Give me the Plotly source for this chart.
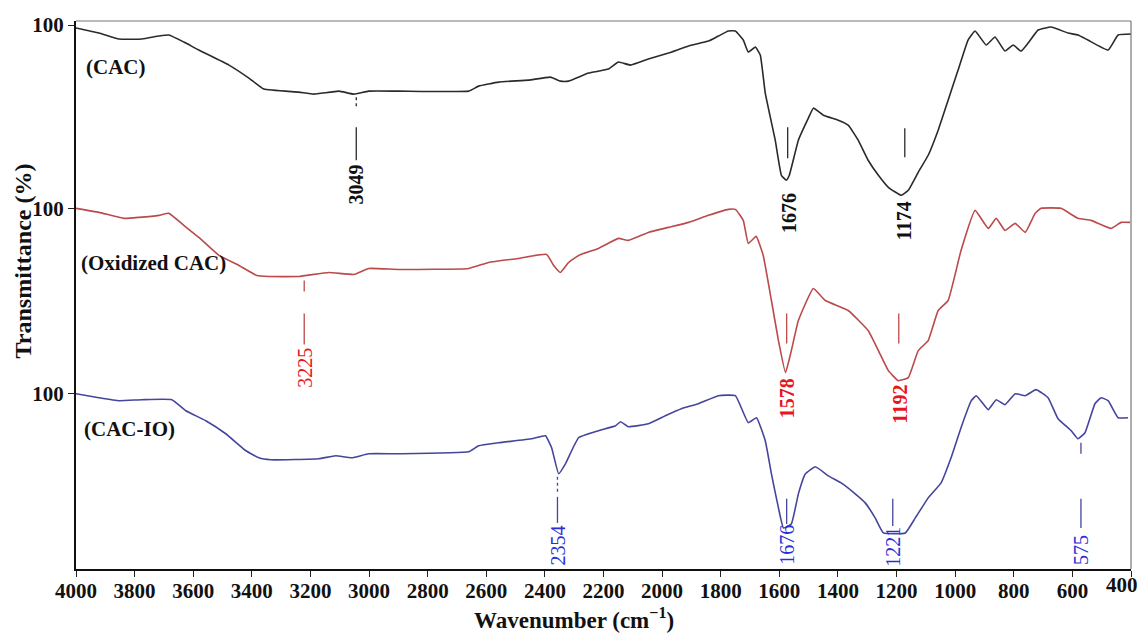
import plotly.graph_objects as go

# ---------------- data ----------------
cac_wn = [4000, 3922, 3853, 3775, 3717, 3683, 3632, 3581, 3478, 3410, 3359, 3240, 3189, 3103, 3052, 3001,
          2899, 2660, 2626, 2558, 2456, 2381, 2347, 2319, 2251, 2183, 2149, 2108, 2047, 1978, 1910, 1842,
          1808, 1774, 1750, 1723, 1706, 1682, 1665, 1648, 1614, 1593, 1576, 1566, 1535, 1501, 1484, 1450,
          1399, 1365, 1331, 1297, 1262, 1228, 1184, 1160, 1126, 1092, 1058, 1024, 990, 956, 932, 894, 864,
          830, 802, 775, 751, 717, 673, 615, 581, 547, 478, 444, 400]
cac_t = [98.5, 96, 93, 93, 94.5, 95, 91.5, 87.5, 80, 73.5, 68, 66.5, 65.5, 67, 65.5, 67,
         67, 67, 69.5, 71.5, 72.5, 74, 72, 72, 76, 78, 81.5, 80, 83, 86, 89.5, 92,
         94.5, 97, 97, 92.5, 86.5, 89, 85, 66, 42.5, 25, 22.5, 25, 42.5, 53.5, 58.5, 55,
         52.5, 50, 42.5, 32.5, 25, 19, 15, 17.5, 26.5, 35, 47.5, 62.5, 77.5, 92.5, 97, 90, 94,
         87, 90, 87, 91, 97.5, 99, 96, 95, 92.5, 87.5, 95, 95.5]

ox_wn = [4000, 3922, 3836, 3785, 3717, 3683, 3632, 3581, 3512, 3444, 3383, 3342, 3240, 3137, 3052, 3001,
         2899, 2660, 2592, 2490, 2394, 2370, 2347, 2319, 2285, 2217, 2149, 2115, 2047, 1978, 1910, 1842,
         1774, 1750, 1723, 1706, 1679, 1655, 1627, 1603, 1579, 1559, 1535, 1484, 1443, 1365, 1297, 1262,
         1228, 1194, 1160, 1126, 1092, 1058, 1024, 980, 932, 887, 860, 830, 795, 761, 727, 707, 639,
         581, 536, 468, 434, 403]
ox_t = [100, 98, 95, 95.5, 96.5, 97.5, 91.5, 85.5, 76.5, 71.5, 66.5, 66, 66, 68, 67, 70,
        69.5, 70, 73, 75, 77, 71.5, 68, 73, 76.5, 80, 85, 84, 88, 90.5, 93, 96.5,
        99.5, 99.5, 94, 82.5, 86, 76.5, 54, 34, 18, 29, 44, 60, 54, 49, 39, 29,
        19, 14, 15.5, 29, 34, 49, 54, 79, 99, 90, 95, 89, 92.5, 88, 97.5, 100, 100,
        95, 94, 90, 93, 93]

io_wn = [4000, 3922, 3853, 3775, 3673, 3625, 3557, 3489, 3420, 3376, 3335, 3172, 3114, 3059, 3001,
         2899, 2660, 2626, 2558, 2445, 2398, 2377, 2353, 2330, 2285, 2217, 2159, 2142, 2115, 2047,
         1989, 1934, 1876, 1808, 1750, 1706, 1678, 1648, 1627, 1603, 1586, 1559, 1535, 1511, 1477,
         1433, 1389, 1341, 1307, 1273, 1245, 1170, 1136, 1092, 1048, 1014, 980, 945, 928, 887, 860,
         830, 795, 761, 724, 683, 649, 604, 581, 557, 523, 502, 478, 444, 410]
io_t = [100, 98, 96.5, 97, 97, 91.5, 86.5, 80, 71.5, 68, 67, 67.5, 69, 68, 70,
        70, 71, 74, 75.5, 77.5, 79, 73, 60, 65, 78, 81.5, 84, 86, 83.5, 85,
        89, 92.5, 95, 99, 99, 85.5, 88, 76.5, 60, 43, 33, 35, 50, 60, 63.5,
        59, 55.5, 50, 45.5, 38, 30.5, 30.5, 38, 48, 55.5, 68, 83, 96.5, 99, 92, 97,
        94.5, 100, 99, 102, 98, 87.5, 81.5, 77.5, 80.5, 95, 98, 96.5, 88, 88]

series_names = ["(CAC)", "(Oxidized CAC)", "(CAC-IO)"]
offsets = [0, 91.5, 184]          # vertical stacking offsets (transmittance units)
x_ticks = list(range(4000, 399, -200))
y_tick_text = ["100", "100", "100"]

peak_labels_cac = ["3049", "1676", "1174"]
peak_labels_ox = ["3225", "1578", "1192"]
peak_labels_io = ["2354", "1676", "1221", "575"]

# ---------------- styling ----------------
FONT = "Liberation Serif"
C_BLACK, C_RED, C_BLUE = "#2a2a2a", "#bb4a4a", "#45459c"
T_BLACK, T_RED, T_BLUE = "#111111", "#e8141e", "#2e2ed6"

fig = go.Figure()
for wn, t, off, col, name in [(cac_wn, cac_t, offsets[0], C_BLACK, series_names[0]),
                              (ox_wn, ox_t, offsets[1], C_RED, series_names[1]),
                              (io_wn, io_t, offsets[2], C_BLUE, series_names[2])]:
    fig.add_trace(go.Scatter(x=wn, y=[v - off for v in t], mode="lines", name=name,
                             line=dict(color=col, width=1.6, shape="spline", smoothing=0.35),
                             showlegend=False, hoverinfo="skip"))

# helpers: pixel -> data (only for placing labels)
def W(px):
    return 4000 - (px - 77) / (1054 / 3600)

def V(py):
    return 112.5 - py / 2

shapes = []
annotations = []

def seg(x, y0, y1, color, dash="solid"):
    shapes.append(dict(type="line", xref="x", yref="y", x0=W(x), x1=W(x), y0=V(y0), y1=V(y1),
                       line=dict(color=color, width=1.3, dash=dash)))

def rot(text, x, yc, color, bold):
    annotations.append(dict(text=f"<b>{text}</b>" if bold else text, x=W(x), y=V(yc), xref="x", yref="y",
                            showarrow=False, textangle=-90, xanchor="center", yanchor="middle",
                            font=dict(family=FONT, size=20, color=color)))

# CAC labels
seg(357, 97, 107, C_BLACK, "dot"); seg(357, 127, 160, C_BLACK); rot(peak_labels_cac[0], 357, 184, T_BLACK, True)
seg(788, 127, 158, C_BLACK); rot(peak_labels_cac[1], 790, 213, T_BLACK, True)
seg(905, 128, 157, C_BLACK); rot(peak_labels_cac[2], 905, 220, T_BLACK, True)
# Oxidized labels
seg(305, 280, 291, C_RED); seg(305, 313, 344, C_RED); rot(peak_labels_ox[0], 305, 367, T_RED, False)
seg(787, 313, 343, C_RED); rot(peak_labels_ox[1], 787, 398, T_RED, True)
seg(899, 313, 343, C_RED); rot(peak_labels_ox[2], 900, 403, T_RED, True)
# CAC-IO labels
seg(558, 476, 492, C_BLUE, "dot"); seg(558, 496, 522, C_BLUE); rot(peak_labels_io[0], 558, 544, T_BLUE, False)
seg(787, 498, 523, C_BLUE); rot(peak_labels_io[1], 787, 544, T_BLUE, False)
seg(893, 498, 525, C_BLUE); rot(peak_labels_io[2], 893, 546, T_BLUE, False)
seg(1081, 442, 453, C_BLUE); seg(1081, 498, 527, C_BLUE); rot(peak_labels_io[3], 1081, 549, T_BLUE, False)

# series labels
for name, x, y in [(series_names[0], 85, 67), (series_names[1], 80, 263), (series_names[2], 83, 428)]:
    annotations.append(dict(text=f"<b>{name}</b>", x=W(x), y=V(y), xref="x", yref="y", showarrow=False,
                            xanchor="left", yanchor="middle",
                            font=dict(family=FONT, size=21, color="#111111")))

# last x tick label (sits inside the right edge in the reference)
annotations.append(dict(text=f"<b>{x_ticks[-1]}</b>", xref="paper", yref="paper",
                        x=(1122 - 77) / 1054, y=(568 - 584) / 547, showarrow=False,
                        xanchor="center", yanchor="middle", font=dict(family=FONT, size=21, color="#111")))

# axis titles
annotations.append(dict(text="<b>Wavenumber (cm<sup>\u22121</sup>)</b>", xref="paper", yref="paper",
                        x=(575 - 77) / 1054, y=(568 - 617) / 547, showarrow=False,
                        xanchor="center", yanchor="middle", font=dict(family=FONT, size=23, color="#111")))
annotations.append(dict(text="<b>Transmittance (%)</b>", xref="paper", yref="paper",
                        x=(24 - 77) / 1054, y=(568 - 260) / 547, showarrow=False, textangle=-90,
                        xanchor="center", yanchor="middle", font=dict(family=FONT, size=24, color="#111")))

# thin top/right frame
shapes.append(dict(type="line", xref="paper", yref="paper", x0=0, x1=1, y0=1, y1=1,
                   line=dict(color="#777", width=1.2)))
shapes.append(dict(type="line", xref="paper", yref="paper", x0=1, x1=1, y0=0, y1=1,
                   line=dict(color="#777", width=1.2)))

tick_text = [str(v) for v in x_ticks[:-1]] + [""]

fig.update_layout(
    width=1143, height=635,
    margin=dict(l=76, r=12, t=21, b=66),
    paper_bgcolor="white", plot_bgcolor="white",
    shapes=shapes, annotations=annotations,
    xaxis=dict(range=[4000, 400], tickvals=x_ticks, ticktext=tick_text,
               ticks="outside", ticklen=6, tickwidth=1.3, tickcolor="#222", ticklabelstandoff=-4,
               showline=True, linewidth=2, linecolor="#111", showgrid=False, zeroline=False,
               tickfont=dict(family=FONT, size=21, color="#111", weight="bold")),
    yaxis=dict(range=[-171.5, 102], tickvals=[100 - o for o in offsets], ticktext=y_tick_text,
               ticks="outside", ticklen=6, tickwidth=1.3, tickcolor="#222",
               showline=True, linewidth=2, linecolor="#111", showgrid=False, zeroline=False,
               tickfont=dict(family=FONT, size=21, color="#111", weight="bold")),
)

fig.write_html("out.html")
